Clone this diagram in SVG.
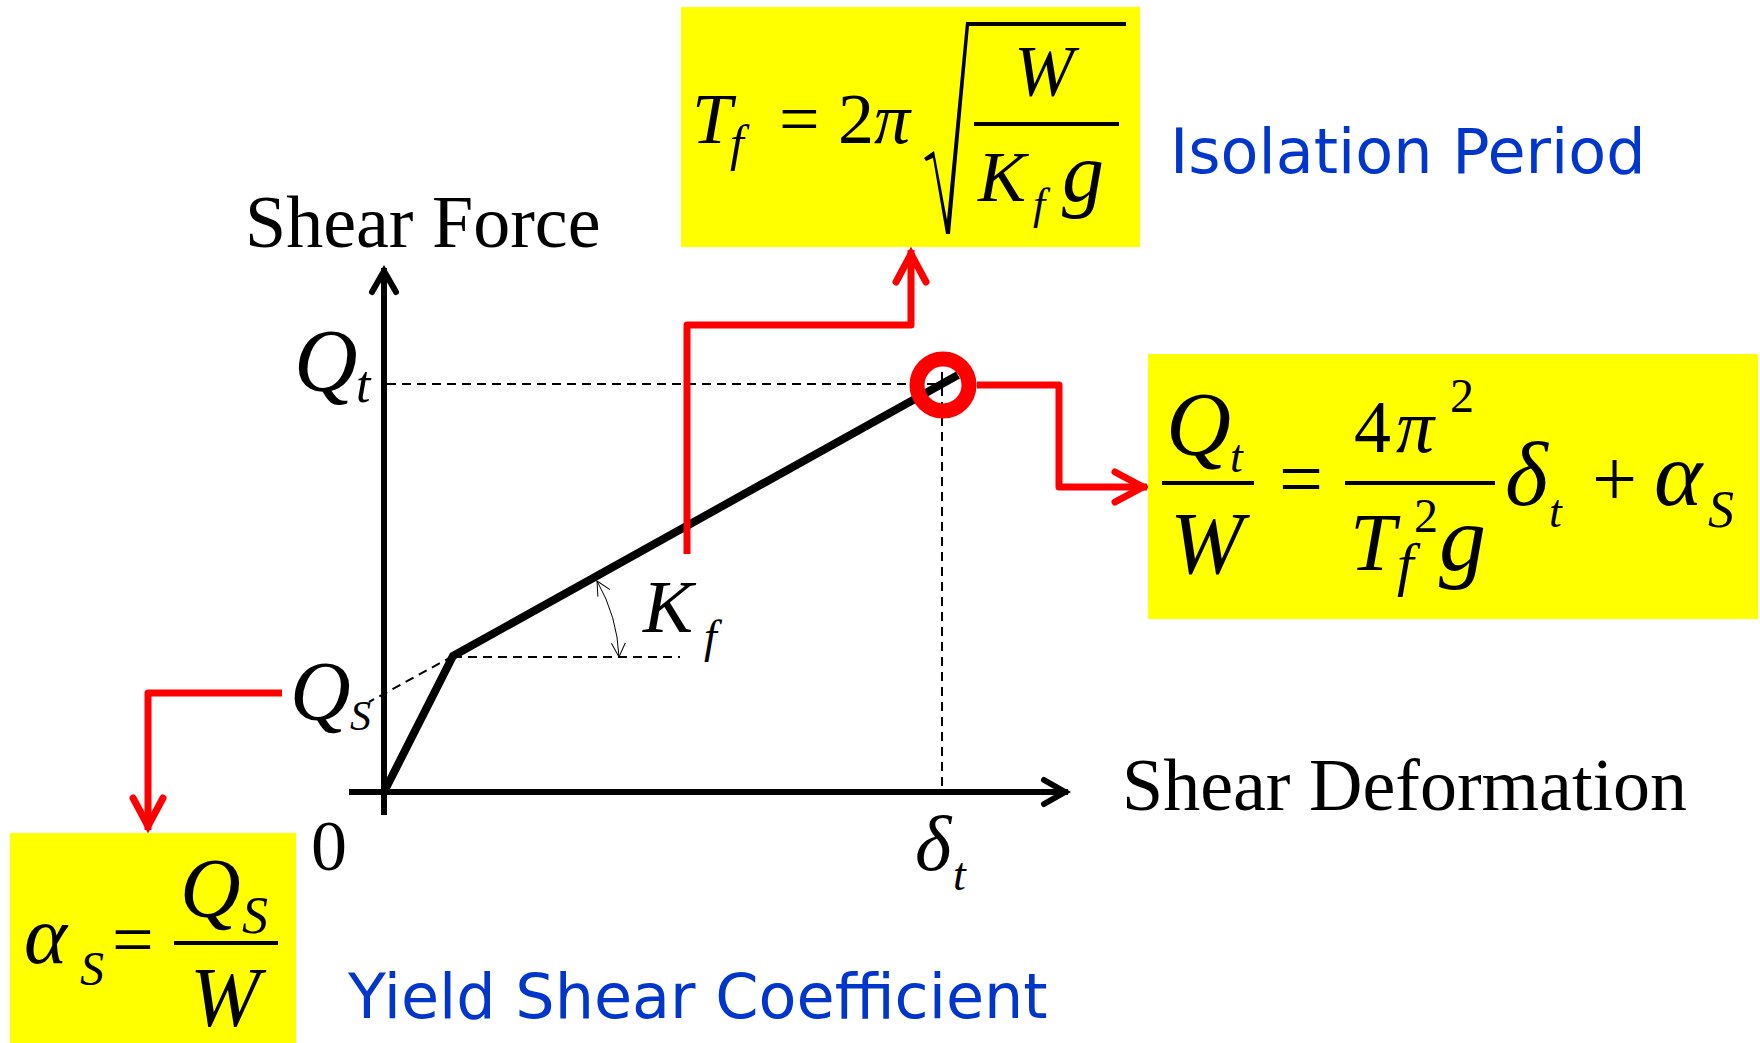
<svg xmlns="http://www.w3.org/2000/svg" width="1760" height="1043" viewBox="0 0 1760 1043">
<defs>
<style>
.m{font-family:"Liberation Serif","Times New Roman",serif;font-style:italic;fill:#000}
.u{font-family:"Liberation Serif","Times New Roman",serif;font-style:normal;fill:#000}
.c{font-family:"DejaVu Sans","Noto Sans",sans-serif;font-size:62px;fill:#0036CC}
.box{fill:#FFFF00}
.bar{stroke:#000;stroke-width:4}
.dash{stroke:#000;stroke-width:2;stroke-dasharray:9 6;fill:none}
.axis{stroke:#000;stroke-width:6;fill:none}
.red{stroke:#FF0000;stroke-width:7;fill:none;stroke-linejoin:round}
</style>
<marker id="redArrow" markerUnits="userSpaceOnUse" viewBox="-40 -20 48 40" markerWidth="48" markerHeight="40" refX="0" refY="0" orient="auto">
<path d="M-32,-15 L-4,0 L-32,15" stroke="#FF0000" stroke-width="7" fill="none" stroke-linecap="round" stroke-linejoin="miter"/>
</marker>
<marker id="blackArrow" markerUnits="userSpaceOnUse" viewBox="-32 -16 40 32" markerWidth="40" markerHeight="32" refX="0" refY="0" orient="auto">
<path d="M-24,-12 L-3,0 L-24,12" stroke="#000" stroke-width="6" fill="none" stroke-linecap="round" stroke-linejoin="miter"/>
</marker>
<marker id="thinArrow" markerUnits="userSpaceOnUse" viewBox="-16 -10 20 20" markerWidth="20" markerHeight="20" refX="0" refY="0" orient="auto-start-reverse">
<path d="M-14,-7 L0,0 L-14,7" stroke="#000" stroke-width="1" fill="none"/>
</marker>
</defs>
<rect width="1760" height="1043" fill="#FFFFFF"/>

<g id="axes">
<line class="axis" x1="384" y1="815" x2="384" y2="268" marker-end="url(#blackArrow)"/>
<line class="axis" x1="349" y1="792" x2="1068" y2="792" marker-end="url(#blackArrow)"/>
<text class="u" x="245" y="247" font-size="74">Shear Force</text>
<text class="u" x="1122" y="810" font-size="74">Shear Deformation</text>
<text class="u" x="311" y="870" font-size="72">0</text>
</g>

<g id="guides">
<line class="dash" x1="387" y1="384" x2="942" y2="384"/>
<line class="dash" x1="942" y1="372" x2="942" y2="790"/>
<line class="dash" x1="453" y1="657" x2="680" y2="657"/>
<line class="dash" x1="453" y1="656" x2="369" y2="702"/>
</g>

<g id="curve">
<polyline points="384,792 453,656 958,375" fill="none" stroke="#000" stroke-width="8" stroke-linejoin="miter"/>
</g>

<g id="label-qt">
<text class="m" x="294" y="390" font-size="88">Q</text>
<text class="m" x="356" y="402" font-size="52">t</text>
</g>
<g id="label-qs">
<text class="m" x="290" y="720" font-size="84">Q</text>
<text class="m" x="350" y="730" font-size="42">S</text>
</g>
<g id="label-delta">
<text class="m" x="915" y="870" font-size="78">δ</text>
<text class="m" x="953" y="890" font-size="46">t</text>
</g>
<g id="label-kf">
<path d="M597,581 A167,167 0 0,1 619,657" fill="none" stroke="#000" stroke-width="1" marker-start="url(#thinArrow)" marker-end="url(#thinArrow)"/>
<text class="m" x="643" y="632" font-size="75">K</text>
<text class="m" x="704" y="652" font-size="46">f</text>
</g>

<g id="target-point">
<circle cx="943" cy="385" r="26" fill="none" stroke="#FF0000" stroke-width="15"/>
</g>

<g id="connectors">
<polyline class="red" points="687,554 687,325 911,325 911,250" marker-end="url(#redArrow)"/>
<polyline class="red" points="977,385 1059,385 1059,487 1147,487" marker-end="url(#redArrow)"/>
<polyline class="red" points="282,693 148,693 148,830" marker-end="url(#redArrow)"/>
</g>

<g id="isolation-period-formula">
<rect class="box" x="681" y="7" width="459" height="240"/>
<text class="m" x="692" y="143" font-size="72">T</text>
<text class="m" x="730" y="160" font-size="50">f</text>
<text class="u" x="779" y="143" font-size="72">=</text>
<text class="u" x="838" y="143" font-size="72">2</text>
<text class="m" x="874" y="143" font-size="72">π</text>
<polygon points="924,158 934,151 947,220 966,22 1126,22 1126,26 969,26 950,234 946,234 933,158 926,161" fill="#000"/>
<text class="m" x="1014" y="95" font-size="72">W</text>
<line class="bar" x1="974" y1="124" x2="1119" y2="124" stroke-width="3"/>
<text class="m" x="978" y="201" font-size="72">K</text>
<text class="m" x="1033" y="219" font-size="44">f</text>
<text class="m" x="1062" y="201" font-size="84">g</text>
</g>
<g id="isolation-period-label">
<text class="c" x="1170" y="173">Isolation Period</text>
</g>

<g id="shear-formula">
<rect class="box" x="1148" y="354" width="610" height="265"/>
<text class="m" x="1166" y="455" font-size="90">Q</text>
<text class="m" x="1230" y="472" font-size="46">t</text>
<line class="bar" x1="1162" y1="483" x2="1254" y2="483"/>
<text class="m" x="1170" y="573" font-size="88">W</text>
<text class="u" x="1279" y="505" font-size="78">=</text>
<text class="u" x="1354" y="452" font-size="74">4</text>
<text class="m" x="1396" y="452" font-size="76">π</text>
<text class="u" x="1450" y="412" font-size="48">2</text>
<line class="bar" x1="1345" y1="483" x2="1495" y2="483"/>
<text class="m" x="1350" y="570" font-size="82">T</text>
<text class="u" x="1414" y="532" font-size="48">2</text>
<text class="m" x="1397" y="584" font-size="60">f</text>
<text class="m" x="1439" y="570" font-size="94">g</text>
<text class="m" x="1505" y="505" font-size="92">δ</text>
<text class="m" x="1549" y="527" font-size="46">t</text>
<text class="u" x="1592" y="506" font-size="80">+</text>
<text class="m" x="1654" y="505" font-size="92">α</text>
<text class="m" x="1708" y="527" font-size="52">S</text>
</g>

<g id="yield-formula">
<rect class="box" x="10" y="833" width="286" height="210"/>
<text class="m" x="24" y="963" font-size="82">α</text>
<text class="m" x="80" y="985" font-size="48">S</text>
<text class="u" x="112" y="964" font-size="74">=</text>
<text class="m" x="180" y="917" font-size="84">Q</text>
<text class="m" x="242" y="933" font-size="52">S</text>
<line class="bar" x1="174" y1="943" x2="278" y2="943"/>
<text class="m" x="190" y="1026" font-size="84">W</text>
</g>
<g id="yield-label">
<text class="c" x="348" y="1018">Yield Shear Coefficient</text>
</g>
</svg>
